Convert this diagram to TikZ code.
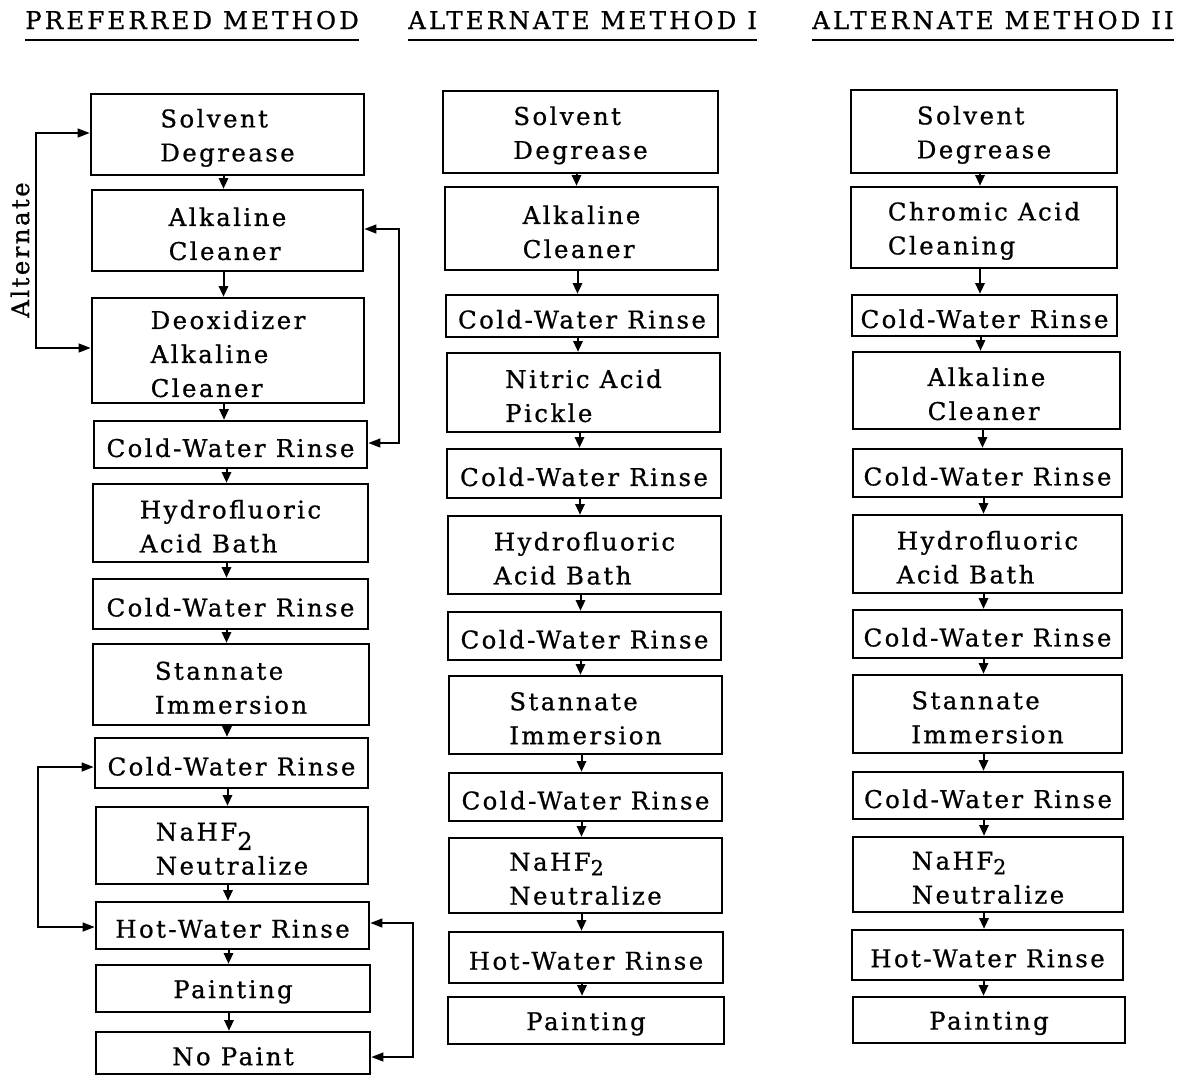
\documentclass[tikz,border=0pt]{standalone}
\usepackage{fontspec}
\setmainfont{DejaVu Serif}[LetterSpace=10,FakeBold=0.8]
\newfontfamily\hdfont{DejaVu Serif}[LetterSpace=13,FakeBold=0.8]
\usetikzlibrary{arrows.meta}
\newcommand\fs{\fontsize{18.3}{25.5}\selectfont}
\newcommand\smtwo{\raisebox{-3.5pt}{\fontsize{15.5}{15.5}\selectfont 2}}
\tikzset{
  box/.style={draw, line width=1.9pt, inner sep=0pt},
  txt/.style={align=left, font=\fs, inner sep=0pt},
  arr/.style={line width=1.5pt, -{Triangle[length=8pt,width=7pt]}},
  lp/.style={line width=1.5pt, {Triangle[length=9pt,width=6.5pt]}-{Triangle[length=9pt,width=6.5pt]}},
  hd/.style={anchor=base west, inner sep=0pt, font=\hdfont\fontsize{18.3}{22}\selectfont},
}
\newcommand\bx[6]{\node[box, minimum width={(#4-#2)*0.75pt}, minimum height={(#5-#3)*0.75pt}] (#1) at ({(#2+#4)/2},{(#3+#5)/2}) {};
  \node[txt, yshift=-2.5pt] (#1t) at (#1.center) {#6};}
\begin{document}
\begin{tikzpicture}[x=0.75pt, y=-0.75pt]
\useasboundingbox (0,0) rectangle (1178,1076);
% headers
\node[hd] (h1) at (25,29) {PREFERRED METHOD};
\node[hd] (h2) at (408,29) {ALTERNATE METHOD I};
\node[hd] (h3) at (812,29) {ALTERNATE METHOD II};
\draw[line width=1.5pt] (h1.west |- 0,40) -- (h1.east |- 0,40);
\draw[line width=1.5pt] (h2.west |- 0,40) -- (h2.east |- 0,40);
\draw[line width=1.5pt] (h3.west |- 0,40) -- (h3.east |- 0,40);
% column 1
\bx{a1}{91}{94}{364}{175}{Solvent\\Degrease}
\bx{a2}{92}{190}{363}{271}{Alkaline\\Cleaner}
\bx{a3}{92}{298}{364}{403}{Deoxidizer\\Alkaline\\Cleaner}
\bx{a4}{94}{421}{367}{468}{Cold-Water Rinse}
\bx{a5}{93}{484}{368}{562}{Hydrofluoric\\Acid Bath}
\bx{a6}{93}{579}{368}{629}{Cold-Water Rinse}
\bx{a7}{93}{644}{369}{725}{Stannate\\Immersion}
\bx{a8}{95}{738}{368}{788}{Cold-Water Rinse}
\bx{a9}{96}{807}{368}{884}{NaHF\raisebox{-7pt}{2}\\Neutralize}
\bx{a10}{96}{902}{369}{949}{Hot-Water Rinse}
\bx{a11}{96}{965}{370}{1012}{Painting}
\bx{a12}{96}{1032}{370}{1074}{No Paint}
% column 2
\bx{b1}{443}{91}{718}{173}{Solvent\\Degrease}
\bx{b2}{445}{187}{718}{270}{Alkaline\\Cleaner}
\bx{b3}{446}{295}{718}{337}{Cold-Water Rinse}
\bx{b4}{447}{353}{720}{432}{Nitric Acid\\Pickle}
\bx{b5}{447}{449}{721}{498}{Cold-Water Rinse}
\bx{b6}{448}{516}{721}{594}{Hydrofluoric\\Acid Bath}
\bx{b7}{448}{612}{721}{660}{Cold-Water Rinse}
\bx{b8}{449}{676}{722}{754}{Stannate\\Immersion}
\bx{b9}{449}{773}{722}{821}{Cold-Water Rinse}
\bx{b10}{449}{838}{722}{913}{NaHF\smtwo\\Neutralize}
\bx{b11}{449}{932}{723}{983}{Hot-Water Rinse}
\bx{b12}{448}{997}{724}{1044}{Painting}
% column 3
\bx{c1}{851}{90}{1117}{173}{Solvent\\Degrease}
\bx{c2}{851}{187}{1117}{268}{Chromic Acid\\Cleaning}
\bx{c3}{852}{295}{1117}{336}{Cold-Water Rinse}
\bx{c4}{853}{352}{1120}{429}{Alkaline\\Cleaner}
\bx{c5}{853}{449}{1122}{497}{Cold-Water Rinse}
\bx{c6}{853}{515}{1122}{593}{Hydrofluoric\\Acid Bath}
\bx{c7}{853}{610}{1122}{658}{Cold-Water Rinse}
\bx{c8}{853}{675}{1122}{753}{Stannate\\Immersion}
\bx{c9}{853}{772}{1123}{819}{Cold-Water Rinse}
\bx{c10}{853}{837}{1123}{912}{NaHF\smtwo\\Neutralize}
\bx{c11}{852}{930}{1123}{980}{Hot-Water Rinse}
\bx{c12}{853}{997}{1125}{1043}{Painting}
% flow arrows
\foreach \c in {a,b,c}{
  \foreach \i [evaluate=\i as \j using int(\i+1)] in {1,...,11}{
    \draw[arr] ([xshift=-3pt]\c\i.south) -- ([xshift=-3pt]\c\i.south |- \c\j.north);
  }
}
% loops
\node[rotate=90, font=\fs, inner sep=0pt] (alt) at (20,250) {Alternate};
\draw[lp] (a1.west |- 0,133) -- (36,133) -- (36,348) -- (a3.west |- 0,348);
\draw[lp] (a2.east |- 0,229) -- (399,229) -- (399,443) -- (a4.east |- 0,443);
\draw[lp] (a8.west |- 0,767) -- (38,767) -- (38,927) -- (a10.west |- 0,927);
\draw[lp] (a10.east |- 0,923) -- (413,923) -- (413,1057) -- (a12.east |- 0,1057);
\end{tikzpicture}
\end{document}
